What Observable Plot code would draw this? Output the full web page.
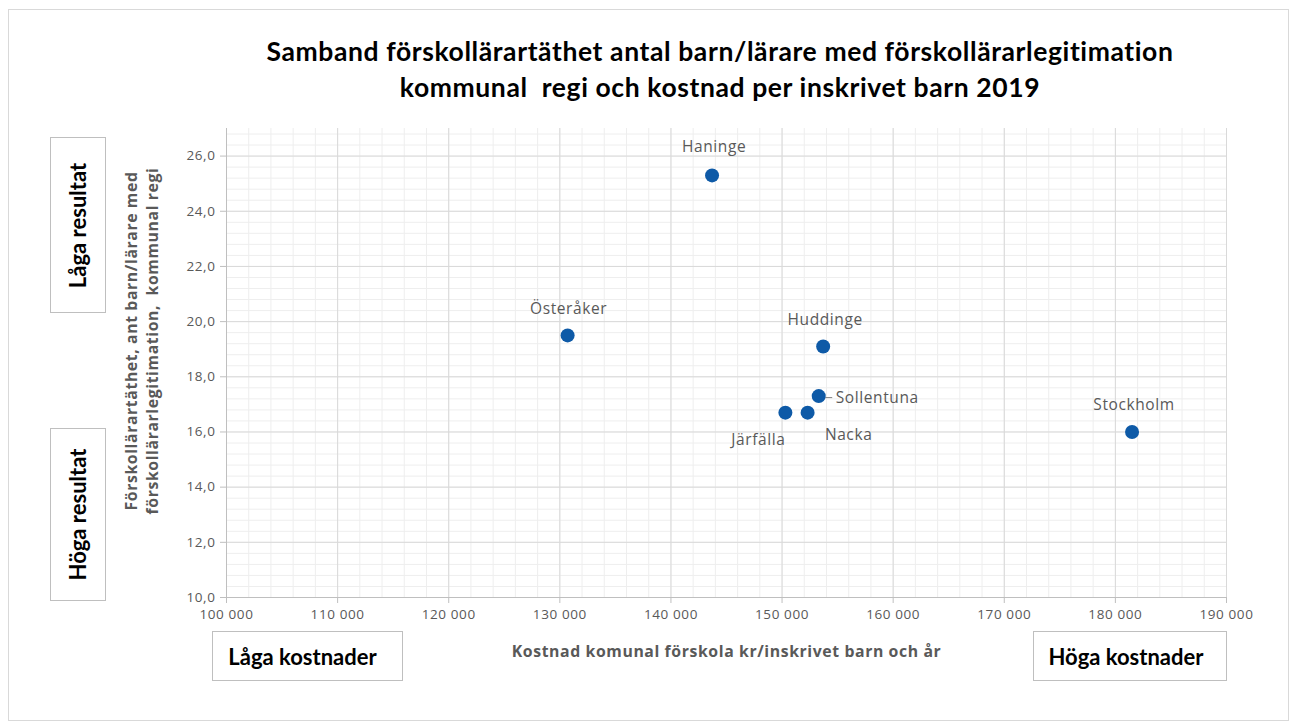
<!DOCTYPE html>
<html>
<head>
<meta charset="utf-8">
<script src="https://cdn.jsdelivr.net/npm/d3@7"></script>
<script src="https://cdn.jsdelivr.net/npm/@observablehq/plot@0.6"></script>
<style>
  html, body { margin: 0; padding: 0; background: #fff; }
  #wrap { position: relative; width: 1290px; height: 726px; overflow: hidden; background: #fff; }
  #frame { position: absolute; left: 8px; top: 9px; width: 1281px; height: 712px; border: 1px solid #d9d9d9; box-sizing: border-box; }
  #title { position: absolute; left: 0; top: 33px; width: 1440px; text-align: center; font-family: Lato, "Open Sans", sans-serif; font-weight: 700; font-size: 26.5px; letter-spacing: 0.6px; line-height: 36px; color: #000; }
  .box { position: absolute; border: 1px solid #bfbfbf; background: #fff; box-sizing: border-box; display: flex; align-items: center; justify-content: center; font-family: Lato, "Open Sans", sans-serif; font-weight: 700; font-size: 22px; color: #000; }
  .vbox span { transform: rotate(-90deg); white-space: nowrap; display: block; }
  #chart { position: absolute; left: 0; top: 0; }
</style>
</head>
<body>
<div id="wrap">
  <div id="frame"></div>
  <div id="chart"></div>
  <div id="title">Samband förskollärartäthet antal barn/lärare med förskollärarlegitimation<br>kommunal&nbsp; regi och kostnad per inskrivet barn 2019</div>
  <div class="box vbox" style="left:50px;top:137px;width:56px;height:176px;"><span>Låga resultat</span></div>
  <div class="box vbox" style="left:50px;top:428px;width:56px;height:173px;"><span>Höga resultat</span></div>
  <div class="box" style="left:212px;top:631px;width:191px;height:50px;padding-right:10px;">Låga kostnader</div>
  <div class="box" style="left:1033px;top:631px;width:194px;height:50px;padding-right:8px;">Höga kostnader</div>
</div>
<script>
// ---- data ----
const municipalities = ["Haninge", "Österåker", "Huddinge", "Sollentuna", "Nacka", "Järfälla", "Stockholm"];
const costPerChild = [143700, 130700, 153700, 153300, 152300, 150300, 181500];
const childrenPerTeacher = [25.3, 19.5, 19.1, 17.3, 16.7, 16.7, 16.0];

const xTicks = [100000, 110000, 120000, 130000, 140000, 150000, 160000, 170000, 180000, 190000];
const yTicks = [10, 12, 14, 16, 18, 20, 22, 24, 26];

const xTitle = "Kostnad komunal förskola kr/inskrivet barn och år";
const yTitle = "Förskollärartäthet, ant barn/lärare med\nförskollärarlegitimation,  kommunal regi";

// label placement (pixel offsets, not data)
const labelPlacement = {
  "Haninge":    {dx: 2,  dy: -28, anchor: "middle"},
  "Österåker":  {dx: 1,  dy: -26, anchor: "middle"},
  "Huddinge":   {dx: 2,  dy: -26, anchor: "middle"},
  "Sollentuna": {dx: 17, dy: 2,   anchor: "start"},
  "Nacka":      {dx: 41, dy: 22,  anchor: "middle"},
  "Järfälla":   {dx: -27, dy: 27, anchor: "middle"},
  "Stockholm":  {dx: 2,  dy: -27, anchor: "middle"}
};

const data = municipalities.map((name, i) => ({name, cost: costPerChild[i], ratio: childrenPerTeacher[i]}));

const xMinor = d3.range(100000, 190001, 2000);
const yMinor = d3.range(10, 27.001, 0.4).map(v => +v.toFixed(1));

const fmtX = d => d3.format(",")(d).replace(/,/g, " ");
const fmtY = d => d.toFixed(1).replace(".", ",");

const labelFont = "'Open Sans', sans-serif";

const labelMarks = municipalities.map(name => {
  const p = labelPlacement[name];
  return Plot.text(data.filter(d => d.name === name), {
    x: "cost", y: "ratio", text: "name",
    dx: p.dx, dy: p.dy, textAnchor: p.anchor,
    fill: "#595959", fontSize: 15.5, fontFamily: labelFont
  });
});

const chart = Plot.plot({
  width: 1290,
  height: 726,
  marginLeft: 226,
  marginRight: 64,
  marginTop: 128,
  marginBottom: 129,
  style: {background: "transparent", fontFamily: labelFont, letterSpacing: "0.6px"},
  x: {domain: [100000, 190000]},
  y: {domain: [10, 27]},
  marks: [
    Plot.gridX(xMinor, {stroke: "#eeeeee", strokeOpacity: 1, strokeWidth: 1}),
    Plot.gridY(yMinor, {stroke: "#eeeeee", strokeOpacity: 1, strokeWidth: 1}),
    Plot.gridX(xTicks, {stroke: "#d9d9d9", strokeOpacity: 1, strokeWidth: 1}),
    Plot.gridY(yTicks, {stroke: "#d9d9d9", strokeOpacity: 1, strokeWidth: 1}),
    Plot.ruleX([100000], {stroke: "#bfbfbf"}),
    Plot.ruleY([10], {stroke: "#bfbfbf"}),
    Plot.axisX(xTicks, {tickFormat: fmtX, tickSize: 6, tickPadding: 6, stroke: "#bfbfbf", fill: "#595959", fontSize: 13.5, label: null}),
    Plot.axisY(yTicks, {tickFormat: fmtY, tickSize: 6, tickPadding: 5, stroke: "#bfbfbf", fill: "#595959", fontSize: 13.5, label: null}),
    Plot.text([xTitle], {frameAnchor: "bottom", dy: 59, fill: "#595959", fontWeight: "bold", fontSize: 15.8}),
    Plot.text([yTitle], {frameAnchor: "left", textAnchor: "middle", dx: -86, dy: -22, rotate: -90, fill: "#595959", fontWeight: "bold", fontSize: 15.8, lineHeight: 1.35}),
    Plot.ruleY(data.filter(d => d.name === "Sollentuna"), {y: "ratio", x1: "cost", x2: "cost", insetLeft: 7, insetRight: -14, dy: 1.5, stroke: "#808080"}),
    Plot.dot(data, {x: "cost", y: "ratio", r: 7, fill: "#0e5aa7", stroke: "none"}),
    ...labelMarks
  ]
});

document.getElementById("chart").appendChild(chart);
</script>
</body>
</html>
